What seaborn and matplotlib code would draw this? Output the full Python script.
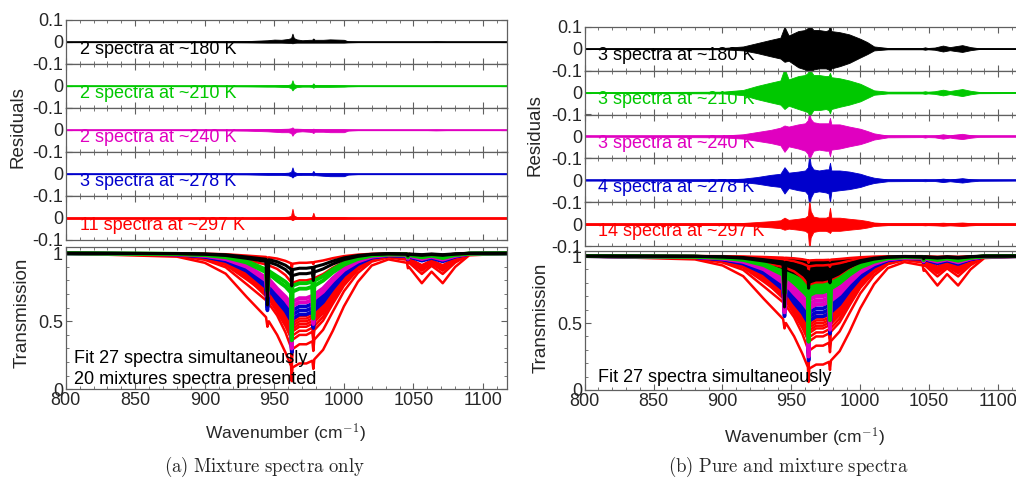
import seaborn as sns
import matplotlib.pyplot as plt
from matplotlib.ticker import MultipleLocator

# wavenumber grid of the transmission curves (cm-1)
wn = [800, 880, 900, 915, 930, 944, 945, 946, 952, 958, 962, 962.5, 963, 968, 973, 977.3, 978, 978.7,
      985, 992, 1000, 1010, 1020, 1032, 1045.3, 1046, 1046.7, 1056, 1063, 1071, 1080, 1090, 1120]

# mixture spectra (shown in both panels)
black_mix = [
    [1.0, 0.998, 0.995, 0.989, 0.973, 0.956, 0.80, 0.953, 0.938, 0.912, 0.883, 0.80, 0.88, 0.89, 0.89, 0.896, 0.83, 0.90,
     0.917, 0.943, 0.966, 0.984, 0.993, 0.997, 0.995, 0.985, 0.995, 0.99, 0.995, 0.99, 0.996, 1.0, 1.0],
    [1.0, 0.998, 0.993, 0.984, 0.963, 0.94, 0.62, 0.935, 0.914, 0.88, 0.84, 0.76, 0.836, 0.85, 0.85, 0.858, 0.80, 0.862,
     0.885, 0.921, 0.953, 0.977, 0.991, 0.996, 0.993, 0.98, 0.992, 0.985, 0.991, 0.985, 0.994, 0.999, 1.0],
]
green_mix = [
    [1.0, 0.996, 0.989, 0.976, 0.944, 0.88, 0.75, 0.87, 0.83, 0.79, 0.75, 0.40, 0.761, 0.78, 0.78, 0.792, 0.55, 0.798,
     0.831, 0.882, 0.929, 0.965, 0.986, 0.993, 0.993, 0.975, 0.99, 0.975, 0.986, 0.97, 0.99, 0.998, 1.0],
    [1.0, 0.995, 0.987, 0.971, 0.932, 0.86, 0.72, 0.85, 0.80, 0.755, 0.71, 0.36, 0.718, 0.74, 0.74, 0.754, 0.52, 0.761,
     0.799, 0.859, 0.915, 0.958, 0.983, 0.992, 0.99, 0.97, 0.988, 0.97, 0.983, 0.965, 0.988, 0.998, 1.0],
]
magenta_mix = [
    [1.0, 0.994, 0.983, 0.961, 0.911, 0.82, 0.70, 0.81, 0.74, 0.68, 0.63, 0.31, 0.643, 0.67, 0.67, 0.687, 0.50, 0.695,
     0.742, 0.817, 0.889, 0.945, 0.978, 0.989, 0.986, 0.962, 0.983, 0.962, 0.978, 0.957, 0.983, 0.997, 1.0],
    [1.0, 0.993, 0.981, 0.957, 0.901, 0.80, 0.68, 0.79, 0.72, 0.655, 0.60, 0.30, 0.612, 0.64, 0.64, 0.658, 0.48, 0.666,
     0.717, 0.798, 0.877, 0.939, 0.975, 0.988, 0.985, 0.96, 0.982, 0.958, 0.975, 0.953, 0.981, 0.997, 1.0],
]
blue_mix = [
    [1.0, 0.993, 0.979, 0.953, 0.891, 0.78, 0.62, 0.77, 0.69, 0.625, 0.565, 0.29, 0.580, 0.61, 0.61, 0.629, 0.47, 0.638,
     0.691, 0.779, 0.864, 0.932, 0.972, 0.986, 0.983, 0.958, 0.98, 0.955, 0.972, 0.95, 0.979, 0.997, 1.0],
    [1.0, 0.992, 0.976, 0.948, 0.881, 0.765, 0.60, 0.755, 0.67, 0.60, 0.535, 0.28, 0.549, 0.58, 0.58, 0.599, 0.46, 0.609,
     0.666, 0.759, 0.852, 0.926, 0.970, 0.985, 0.981, 0.955, 0.978, 0.95, 0.97, 0.946, 0.977, 0.996, 1.0],
    [0.999, 0.991, 0.974, 0.943, 0.870, 0.75, 0.58, 0.74, 0.65, 0.575, 0.505, 0.27, 0.517, 0.550, 0.550, 0.570, 0.45,
     0.581, 0.640, 0.739, 0.838, 0.919, 0.967, 0.984, 0.98, 0.955, 0.975, 0.945, 0.965, 0.94, 0.975, 0.995, 0.999],
]
red_mix = [
    [1.0, 0.999, 0.997, 0.993, 0.983, 0.973, 0.967, 0.970, 0.961, 0.944, 0.926, 0.884, 0.923, 0.930, 0.930, 0.934, 0.920,
     0.936, 0.947, 0.964, 0.979, 0.990, 0.996, 0.998, 0.997, 0.995, 0.995, 0.989, 0.994, 0.989, 0.995, 0.999, 1.0],
    [1.0, 0.997, 0.990, 0.978, 0.950, 0.918, 0.901, 0.911, 0.885, 0.839, 0.789, 0.686, 0.783, 0.801, 0.801, 0.811, 0.775,
     0.817, 0.847, 0.894, 0.936, 0.969, 0.987, 0.994, 0.990, 0.984, 0.986, 0.967, 0.981, 0.967, 0.986, 0.998, 1.0],
    [0.999, 0.991, 0.973, 0.941, 0.867, 0.75, 0.71, 0.73, 0.65, 0.565, 0.49, 0.353, 0.507, 0.540, 0.540, 0.561, 0.494,
     0.571, 0.631, 0.732, 0.834, 0.916, 0.966, 0.983, 0.973, 0.958, 0.962, 0.912, 0.948, 0.912, 0.962, 0.994, 0.999],
    [0.999, 0.990, 0.972, 0.938, 0.859, 0.74, 0.70, 0.72, 0.637, 0.547, 0.467, 0.331, 0.486, 0.520, 0.520, 0.541, 0.473,
     0.552, 0.613, 0.718, 0.824, 0.911, 0.964, 0.982, 0.972, 0.955, 0.959, 0.907, 0.944, 0.907, 0.959, 0.994, 0.999],
    [0.999, 0.990, 0.970, 0.934, 0.851, 0.727, 0.683, 0.709, 0.623, 0.529, 0.448, 0.310, 0.466, 0.500, 0.500, 0.522, 0.453,
     0.533, 0.596, 0.704, 0.815, 0.906, 0.962, 0.981, 0.970, 0.952, 0.957, 0.902, 0.941, 0.902, 0.957, 0.994, 0.999],
    [0.999, 0.989, 0.968, 0.931, 0.843, 0.715, 0.669, 0.696, 0.607, 0.511, 0.427, 0.289, 0.445, 0.480, 0.480, 0.502, 0.432,
     0.513, 0.578, 0.690, 0.805, 0.901, 0.959, 0.980, 0.968, 0.950, 0.955, 0.896, 0.938, 0.896, 0.955, 0.993, 0.999],
    [0.999, 0.988, 0.966, 0.927, 0.835, 0.703, 0.655, 0.683, 0.591, 0.492, 0.406, 0.268, 0.425, 0.460, 0.460, 0.482, 0.411,
     0.493, 0.560, 0.675, 0.795, 0.895, 0.957, 0.979, 0.966, 0.947, 0.952, 0.890, 0.934, 0.890, 0.952, 0.993, 0.999],
    [0.999, 0.987, 0.964, 0.921, 0.822, 0.684, 0.634, 0.663, 0.568, 0.464, 0.377, 0.240, 0.395, 0.430, 0.430, 0.453, 0.381,
     0.464, 0.533, 0.653, 0.780, 0.887, 0.953, 0.977, 0.964, 0.942, 0.948, 0.882, 0.929, 0.882, 0.948, 0.992, 0.999],
    [0.999, 0.986, 0.961, 0.914, 0.808, 0.704, 0.651, 0.682, 0.603, 0.486, 0.376, 0.212, 0.364, 0.400, 0.400, 0.423, 0.351,
     0.435, 0.505, 0.629, 0.763, 0.878, 0.949, 0.975, 0.961, 0.938, 0.944, 0.872, 0.923, 0.872, 0.944, 0.992, 0.999],
    [0.999, 0.983, 0.952, 0.897, 0.773, 0.655, 0.596, 0.630, 0.543, 0.418, 0.307, 0.154, 0.295, 0.331, 0.331, 0.353, 0.282,
     0.365, 0.437, 0.571, 0.721, 0.855, 0.939, 0.970, 0.952, 0.925, 0.932, 0.848, 0.908, 0.848, 0.932, 0.990, 0.999],
    [0.998, 0.975, 0.93, 0.85, 0.68, 0.53, 0.46, 0.50, 0.40, 0.27, 0.17, 0.06, 0.16, 0.19, 0.19, 0.21, 0.15, 0.22,
     0.29, 0.43, 0.61, 0.79, 0.91, 0.955, 0.93, 0.89, 0.90, 0.78, 0.865, 0.78, 0.90, 0.985, 0.998],
]

# pure spectra (right panel only)
black_pure_hi = [1.0, 1.0, 0.998, 0.995, 0.99, 0.985, 0.98, 0.98, 0.978, 0.975, 0.97, 0.96, 0.97, 0.975, 0.975, 0.975, 0.97,
                 0.975, 0.978, 0.982, 0.988, 0.994, 0.998, 1.0, 1.0, 0.998, 1.0, 0.998, 1.0, 0.998, 1.0, 1.0, 1.0]
black_pure_lo = [1.0, 0.998, 0.99, 0.975, 0.95, 0.91, 0.75, 0.895, 0.87, 0.84, 0.81, 0.62, 0.80, 0.81, 0.815, 0.82, 0.70,
                 0.825, 0.85, 0.89, 0.93, 0.965, 0.985, 0.995, 0.992, 0.97, 0.99, 0.975, 0.985, 0.975, 0.99, 0.998, 1.0]
green_pure_hi = [1.0, 0.998, 0.99, 0.98, 0.96, 0.92, 0.90, 0.91, 0.88, 0.85, 0.83, 0.80, 0.83, 0.85, 0.85, 0.86, 0.84,
                 0.86, 0.88, 0.91, 0.95, 0.975, 0.99, 0.996, 0.995, 0.985, 0.993, 0.985, 0.99, 0.985, 0.995, 1.0, 1.0]
green_pure_lo = [1.0, 0.995, 0.985, 0.965, 0.92, 0.84, 0.58, 0.83, 0.77, 0.72, 0.68, 0.25, 0.68, 0.70, 0.70, 0.71, 0.45,
                 0.72, 0.76, 0.83, 0.90, 0.95, 0.98, 0.99, 0.988, 0.96, 0.985, 0.965, 0.98, 0.96, 0.985, 0.997, 1.0]
magenta_pure = [1.0, 0.995, 0.984, 0.966, 0.920, 0.83, 0.58, 0.82, 0.76, 0.70, 0.65, 0.25, 0.675, 0.70, 0.70, 0.715,
                0.45, 0.723, 0.766, 0.835, 0.900, 0.951, 0.980, 0.990, 0.988, 0.965, 0.985, 0.965, 0.98, 0.96, 0.985,
                0.997, 1.0]
blue_pure = [1.0, 0.993, 0.981, 0.957, 0.901, 0.80, 0.55, 0.79, 0.72, 0.65, 0.59, 0.22, 0.612, 0.64, 0.64, 0.658,
             0.42, 0.666, 0.717, 0.798, 0.877, 0.939, 0.975, 0.988, 0.985, 0.96, 0.982, 0.958, 0.975, 0.953, 0.981, 0.997,
             1.0]
red_pure = [
    [1.0, 1.0, 0.999, 0.997, 0.993, 0.988, 0.986, 0.987, 0.983, 0.976, 0.968, 0.95, 0.967, 0.97, 0.97, 0.972, 0.966, 0.973,
     0.978, 0.985, 0.991, 0.996, 0.998, 0.999, 0.999, 0.998, 0.998, 0.995, 0.997, 0.995, 0.998, 1.0, 1.0],
    [0.999, 0.992, 0.976, 0.947, 0.879, 0.77, 0.73, 0.75, 0.68, 0.60, 0.52, 0.392, 0.544, 0.575, 0.575, 0.595, 0.531,
     0.605, 0.662, 0.756, 0.849, 0.924, 0.969, 0.985, 0.976, 0.962, 0.966, 0.921, 0.953, 0.921, 0.966, 0.995, 0.999],
    [0.999, 0.991, 0.974, 0.943, 0.870, 0.755, 0.715, 0.74, 0.66, 0.575, 0.50, 0.364, 0.517, 0.550, 0.550, 0.570, 0.505,
     0.581, 0.640, 0.739, 0.838, 0.919, 0.967, 0.984, 0.974, 0.959, 0.963, 0.915, 0.949, 0.915, 0.963, 0.995, 0.999],
]

# residual envelopes, panel (a)
res_wn_a = [800, 900, 930, 945, 950, 955, 960, 962, 963, 964, 966, 970, 975, 977, 978, 979, 985, 990, 1000, 1003, 1010,
            1060, 1066, 1074, 1120]
res_a_hi = {
    "180": [0.001, 0.002, 0.004, 0.008, 0.011, 0.010, 0.014, 0.018, 0.038, 0.018, 0.012, 0.008, 0.010, 0.010, 0.016, 0.010,
            0.010, 0.012, 0.010, 0.003, 0.001, 0.001, 0.003, 0.001, 0.001],
    "210": [0.001, 0.001, 0.002, 0.003, 0.003, 0.004, 0.005, 0.008, 0.026, 0.008, 0.004, 0.003, 0.003, 0.004, 0.012, 0.004,
            0.004, 0.004, 0.003, 0.002, 0.001, 0.001, 0.001, 0.001, 0.001],
    "240": [0.001, 0.001, 0.003, 0.004, 0.004, 0.005, 0.006, 0.008, 0.012, 0.006, 0.006, 0.005, 0.004, 0.004, 0.006, 0.004,
            0.003, 0.003, 0.003, 0.002, 0.001, 0.001, 0.002, 0.001, 0.001],
    "278": [0.001, 0.001, 0.002, 0.004, 0.004, 0.004, 0.006, 0.010, 0.030, 0.010, 0.005, 0.004, 0.004, 0.004, 0.014, 0.004,
            0.003, 0.003, 0.003, 0.002, 0.001, 0.001, 0.001, 0.001, 0.001],
    "297": [0.001, 0.001, 0.002, 0.003, 0.004, 0.004, 0.006, 0.010, 0.042, 0.012, 0.005, 0.004, 0.004, 0.005, 0.024, 0.005,
            0.004, 0.004, 0.004, 0.002, 0.001, 0.001, 0.001, 0.001, 0.001],
}
res_a_lo = {
    "180": [-0.001, -0.001, -0.002, -0.003, -0.003, -0.003, -0.004, -0.004, -0.006, -0.004, -0.003, -0.003, -0.003, -0.003,
            -0.003, -0.003, -0.003, -0.003, -0.003, -0.002, -0.001, -0.001, -0.001, -0.001, -0.001],
    "210": [-0.001, -0.001, -0.002, -0.003, -0.003, -0.004, -0.005, -0.010, -0.020, -0.012, -0.005, -0.003, -0.003, -0.004,
            -0.008, -0.004, -0.004, -0.004, -0.003, -0.002, -0.001, -0.001, -0.001, -0.001, -0.001],
    "240": [-0.001, -0.001, -0.003, -0.006, -0.008, -0.010, -0.010, -0.014, -0.026, -0.016, -0.008, -0.006, -0.008, -0.010,
            -0.014, -0.008, -0.008, -0.010, -0.010, -0.003, -0.001, -0.001, -0.002, -0.001, -0.001],
    "278": [-0.001, -0.001, -0.002, -0.004, -0.004, -0.004, -0.006, -0.010, -0.016, -0.010, -0.005, -0.004, -0.004, -0.005,
            -0.006, -0.005, -0.008, -0.010, -0.010, -0.003, -0.001, -0.001, -0.001, -0.001, -0.001],
    "297": [-0.001, -0.001, -0.002, -0.003, -0.003, -0.003, -0.004, -0.006, -0.010, -0.006, -0.003, -0.003, -0.003, -0.003,
            -0.004, -0.003, -0.003, -0.003, -0.003, -0.002, -0.001, -0.001, -0.001, -0.001, -0.001],
}

# residual envelopes, panel (b)
res_wn_b = [800, 900, 915, 925, 935, 942, 945, 948, 955, 960, 962, 963, 964, 966, 970, 975, 977, 978, 979, 985, 992, 1000,
            1005, 1010, 1020, 1045, 1047, 1049, 1054, 1060, 1065, 1068, 1074, 1080, 1086, 1120]
res_b_hi = {
    "180": [0.001, 0.003, 0.010, 0.025, 0.040, 0.050, 0.100, 0.060, 0.080, 0.085, 0.095, 0.120, 0.100, 0.085, 0.085, 0.080,
            0.085, 0.110, 0.080, 0.075, 0.065, 0.045, 0.030, 0.010, 0.003, 0.003, 0.006, 0.003, 0.005, 0.014, 0.007, 0.010,
            0.016, 0.007, 0.002, 0.001],
    "210": [0.001, 0.004, 0.012, 0.030, 0.045, 0.055, 0.110, 0.060, 0.075, 0.080, 0.090, 0.120, 0.100, 0.080, 0.080, 0.075,
            0.075, 0.090, 0.070, 0.065, 0.055, 0.040, 0.025, 0.010, 0.004, 0.004, 0.006, 0.004, 0.006, 0.013, 0.007, 0.010,
            0.016, 0.008, 0.003, 0.002],
    "240": [0.001, 0.004, 0.010, 0.020, 0.030, 0.040, 0.050, 0.045, 0.055, 0.060, 0.075, 0.110, 0.080, 0.065, 0.060, 0.060,
            0.060, 0.085, 0.055, 0.055, 0.045, 0.035, 0.025, 0.014, 0.004, 0.003, 0.005, 0.003, 0.004, 0.010, 0.005, 0.008,
            0.012, 0.006, 0.002, 0.001],
    "278": [0.001, 0.003, 0.008, 0.015, 0.025, 0.030, 0.060, 0.035, 0.040, 0.045, 0.060, 0.120, 0.070, 0.050, 0.045, 0.050,
            0.050, 0.080, 0.045, 0.045, 0.040, 0.030, 0.020, 0.012, 0.004, 0.003, 0.004, 0.003, 0.003, 0.008, 0.004, 0.006,
            0.010, 0.005, 0.002, 0.001],
    "297": [0.002, 0.004, 0.006, 0.010, 0.014, 0.018, 0.030, 0.020, 0.025, 0.030, 0.040, 0.110, 0.060, 0.035, 0.030, 0.030,
            0.035, 0.075, 0.030, 0.030, 0.025, 0.020, 0.015, 0.008, 0.004, 0.004, 0.005, 0.004, 0.005, 0.007, 0.005, 0.006,
            0.008, 0.005, 0.003, 0.002],
}
res_b_lo = {
    "180": [-0.001, -0.003, -0.008, -0.020, -0.035, -0.045, -0.060, -0.055, -0.085, -0.095, -0.110, -0.120, -0.110, -0.095,
            -0.090, -0.090, -0.095, -0.110, -0.090, -0.080, -0.065, -0.040, -0.025, -0.008, -0.003, -0.003, -0.005, -0.003,
            -0.005, -0.013, -0.007, -0.010, -0.015, -0.007, -0.002, -0.001],
    "210": [-0.001, -0.004, -0.012, -0.030, -0.045, -0.055, -0.075, -0.060, -0.075, -0.085, -0.090, -0.110, -0.100, -0.080,
            -0.080, -0.075, -0.080, -0.095, -0.075, -0.065, -0.055, -0.040, -0.025, -0.010, -0.004, -0.004, -0.006, -0.004,
            -0.006, -0.013, -0.007, -0.010, -0.016, -0.008, -0.003, -0.002],
    "240": [-0.001, -0.004, -0.010, -0.020, -0.030, -0.040, -0.070, -0.045, -0.055, -0.065, -0.080, -0.110, -0.090, -0.065,
            -0.060, -0.065, -0.065, -0.090, -0.060, -0.055, -0.045, -0.035, -0.025, -0.014, -0.004, -0.003, -0.005, -0.003,
            -0.004, -0.010, -0.005, -0.008, -0.012, -0.006, -0.002, -0.001],
    "278": [-0.001, -0.003, -0.008, -0.015, -0.025, -0.030, -0.060, -0.035, -0.045, -0.050, -0.065, -0.120, -0.080, -0.055,
            -0.050, -0.055, -0.060, -0.100, -0.050, -0.045, -0.040, -0.030, -0.020, -0.012, -0.004, -0.003, -0.004, -0.003,
            -0.003, -0.008, -0.004, -0.006, -0.010, -0.005, -0.002, -0.001],
    "297": [-0.002, -0.004, -0.006, -0.010, -0.014, -0.018, -0.025, -0.020, -0.025, -0.030, -0.040, -0.120, -0.060, -0.035,
            -0.030, -0.030, -0.035, -0.040, -0.030, -0.030, -0.025, -0.020, -0.015, -0.008, -0.004, -0.004, -0.005, -0.004,
            -0.005, -0.007, -0.005, -0.006, -0.008, -0.005, -0.003, -0.002],
}

temps = ["180", "210", "240", "278", "297"]
counts_a = [2, 2, 2, 3, 11]
counts_b = [3, 3, 3, 4, 14]
colors = {"180": "black", "210": "#00c800", "240": "#e000c0", "278": "#0000cc", "297": "#ff0000"}

sns.set_theme(style="ticks")
plt.rcParams["font.family"] = ["Liberation Sans", "DejaVu Sans"]
plt.rcParams["mathtext.fontset"] = "cm"

fig = plt.figure(figsize=(10.16, 4.79), dpi=100)
H, W = 479.0, 1016.0
edge = "#606060"
txt = "#262626"


def style(ax, minor_y=None):
    ax.set_xlim(800, 1117)
    ax.xaxis.set_major_locator(MultipleLocator(50))
    ax.xaxis.set_minor_locator(MultipleLocator(10))
    if minor_y:
        ax.yaxis.set_minor_locator(MultipleLocator(minor_y))
    ax.tick_params(which="both", direction="in", top=True, right=True, color=edge, labelsize=13,
                   labelcolor=txt, pad=2)
    ax.tick_params(which="major", length=4.5, width=0.8)
    ax.tick_params(which="minor", length=2.5, width=0.6)
    for s in ax.spines.values():
        s.set_color(edge)
        s.set_linewidth(0.9)
        s.set_visible(True)


def residual_strips(x0, x1, top, hgt, res_wn, hi, lo, counts, text_y):
    for i, t in enumerate(temps):
        ax = fig.add_axes([x0 / W, 1 - (top + hgt * (i + 1)) / H, (x1 - x0) / W, hgt / H])
        col = colors[t]
        ax.fill_between(res_wn, lo[t], hi[t], color=col, lw=0.6)
        sns.lineplot(x=[800, 1120], y=[0, 0], ax=ax, color=col, lw=2.0 if t == "297" else 1.2)
        ax.set_ylim(-0.1, 0.1)
        ax.set_yticks([-0.1, 0, 0.1])
        ax.set_yticklabels(["-0.1", "0", "0.1" if i == 0 else ""])
        style(ax)
        ax.set_xticklabels([])
        ax.set_xlabel("")
        ax.set_ylabel("")
        ax.text(810, text_y, f"{counts[i]} spectra at ~{t} K", color=col, fontsize=13, va="center", ha="left")


def transmission(ax, groups, ytop):
    # groups: (curves, colour, linewidth) or ("band", hi, lo, colour)
    for g in groups:
        if g[0] == "band":
            ax.fill_between(wn, g[2], g[1], color=g[3], lw=0.8)
            continue
        curves, col, lw = g
        for c in curves:
            sns.lineplot(x=wn, y=c, ax=ax, color=col, lw=lw)
    ax.set_ylim(0, ytop)
    ax.set_yticks([0, 0.5, 1])
    ax.set_yticklabels(["0", "0.5", "1"])
    style(ax, minor_y=0.1)
    ax.set_xlabel("")
    ax.set_ylabel("")


# panel (a)
residual_strips(65.7, 506.7, 20, 44, res_wn_a, res_a_hi, res_a_lo, counts_a, -0.035)
axa = fig.add_axes([65.7 / W, 1 - 389.3 / H, 441 / W, 142 / H])
transmission(axa, [(red_mix, colors["297"], 1.8), (blue_mix, colors["278"], 2.6),
                   (magenta_mix, colors["240"], 2.8), (green_mix, colors["210"], 2.8),
                   (black_mix, colors["180"], 2.2)], 1.044)
axa.text(806, 0.23, "Fit 27 spectra simultaneously", fontsize=13, va="center", color="black")
axa.text(806, 0.07, "20 mixtures spectra presented", fontsize=13, va="center", color="black")

# panel (b)
residual_strips(584.7, 1021.5, 26.7, 43.9, res_wn_b, res_b_hi, res_b_lo, counts_b, -0.032)
axb = fig.add_axes([584.7 / W, 1 - 390 / H, 436.8 / W, 139.3 / H])
transmission(axb, [(red_mix + red_pure, colors["297"], 1.8), (blue_mix + [blue_pure], colors["278"], 2.6),
                   (magenta_mix + [magenta_pure], colors["240"], 2.8),
                   ("band", green_pure_hi, green_pure_lo, colors["210"]), (green_mix, colors["210"], 2.8),
                   ("band", black_pure_hi, black_pure_lo, colors["180"]), (black_mix, colors["180"], 2.2)], 1.04)
axb.text(810, 0.09, "Fit 27 spectra simultaneously", fontsize=13, va="center", color="black")

# axis titles and captions
fig.text(18 / W, 1 - 127 / H, "Residuals", rotation=90, ha="center", va="center", fontsize=13.5, color=txt)
fig.text(535 / W, 1 - 135 / H, "Residuals", rotation=90, ha="center", va="center", fontsize=13.5, color=txt)
fig.text(22 / W, 1 - 313 / H, "Transmission", rotation=90, ha="center", va="center", fontsize=13.5, color=txt)
fig.text(541 / W, 1 - 318 / H, "Transmission", rotation=90, ha="center", va="center", fontsize=13.5, color=txt)
fig.text(286 / W, 1 - 433 / H, "Wavenumber (cm$^{-1}$)", ha="center", va="center", fontsize=12.5, color=txt)
fig.text(805 / W, 1 - 437 / H, "Wavenumber (cm$^{-1}$)", ha="center", va="center", fontsize=12.5, color=txt)
fig.text(264 / W, 1 - 467 / H, r"$\mathrm{(a)\ Mixture\ spectra\ only}$", ha="center", va="center", fontsize=13.5)
fig.text(788 / W, 1 - 467 / H, r"$\mathrm{(b)\ Pure\ and\ mixture\ spectra}$", ha="center", va="center", fontsize=13.5)

fig.savefig("out.png", dpi=100, facecolor="white")
